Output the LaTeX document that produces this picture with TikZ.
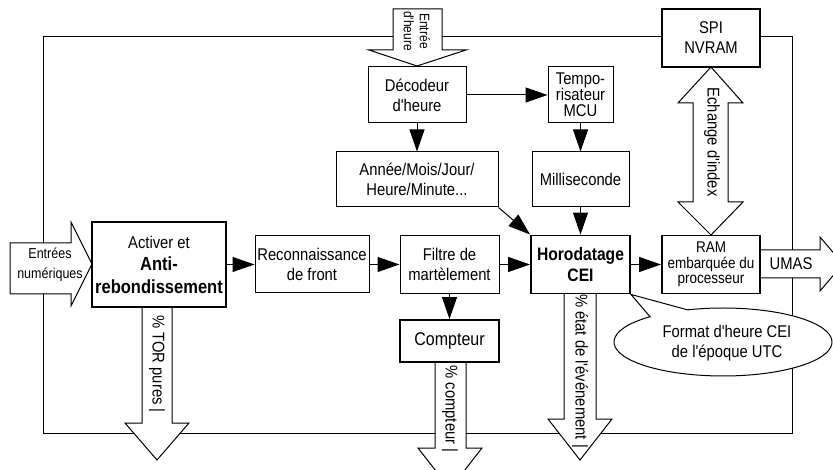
\documentclass[tikz,border=0pt]{standalone}
\usepackage{fontspec}
\setmainfont{Liberation Sans}[Ligatures=TeXOff, FakeStretch=0.87]
\usetikzlibrary{arrows.meta,calc}

\tikzset{
  txt/.style={font=\fontsize{17}{20}\selectfont, align=center, inner sep=0pt},
  box/.style={txt, draw, fill=white, line width=1pt},
  thickbox/.style={box, line width=1.9pt},
  conn/.style={line width=1pt, -{Triangle[length=22pt,width=15pt]}},
  hollow/.style={draw, fill=white, line width=1pt, line join=miter},
  vlabel/.style={txt, rotate=-90},
}

\begin{document}
\begin{tikzpicture}[x=1pt,y=-1pt]
\useasboundingbox (0,0) rectangle (833,470);
\clip (0,0) rectangle (833,470);

% outer loop
\draw[line width=1pt] (43,37) rectangle (792,433);

% time input arrow
\draw[hollow] (393,9) -- (442,9) -- (442,50) -- (466,50) -- (417,66)
  -- (369,50) -- (393,50) -- cycle;
\node[vlabel, font=\fontsize{13.8}{16}\selectfont] (tin) at (417,31) {Entrée\\d'heure};

% digital inputs arrow
\draw[hollow] (10,243) -- (71,243) -- (71,222) -- (92,264) -- (71,306)
  -- (71,294) -- (10,294) -- cycle;
\node[txt, font=\fontsize{14.4}{20}\selectfont] (din) at (50,265) {Entrées\\numériques};

% index exchange double arrow
\draw[hollow] (711,67) -- (743,103) -- (728,103) -- (728,202) -- (743,202)
  -- (711,235) -- (678,202) -- (693,202) -- (693,103) -- (678,103) -- cycle;
\node[vlabel] (idx) at (712,142) {Echange d'index};

% UMAS output arrow
\draw[hollow] (760,250) -- (820,250) -- (820,237) -- (843,264) -- (820,291)
  -- (820,278) -- (760,278) -- cycle;
\node[txt] (umas) at (791,264) {UMAS};

% output arrows
\draw[hollow] (142,307) -- (172,307) -- (172,423) -- (189,423) -- (157,460)
  -- (125,423) -- (142,423) -- cycle;
\node[vlabel] (tor) at (157,364) {\% TOR pures |};

\draw[hollow] (435,362) -- (466,362) -- (466,448) -- (482,448) -- (450,489)
  -- (418,448) -- (435,448) -- cycle;
\node[vlabel] (cptout) at (450,409) {\% compteur |};

\draw[hollow] (564,293) -- (596,293) -- (596,419) -- (612,419) -- (580,460)
  -- (548,419) -- (564,419) -- cycle;
\node[vlabel] (evt) at (580,371) {\% état de l'événement |};

% blocks
\node[box, minimum width=98pt, minimum height=56pt] (dec) at (417,95) {Décodeur\\d'heure};
\node[box, minimum width=65pt, minimum height=56pt, font=\fontsize{17}{16}\selectfont] (tmp) at (580.5,95) {Tempo-\\risateur\\MCU};
\node[box, minimum width=162pt, minimum height=55pt] (annee) at (417,179.5) {Année/Mois/Jour/\\Heure/Minute...};
\node[box, minimum width=97pt, minimum height=55pt] (milli) at (580.5,179.5) {Milliseconde};
\node[thickbox, minimum width=98pt, minimum height=58pt] (spi) at (711,38) {SPI\\NVRAM};
\node[thickbox, minimum width=134pt, minimum height=85pt, font=\fontsize{17}{22.5}\selectfont] (act) at (159,264.5)
  {Activer et\\{\fontsize{19}{22.5}\selectfont\bfseries Anti-}\\{\fontsize{19}{22.5}\selectfont\bfseries rebondissement}};
\node[box, minimum width=114pt, minimum height=57pt] (reco) at (312,264.5) {Reconnaissance\\de front};
\node[box, minimum width=99pt, minimum height=58pt] (filtre) at (449.5,264.5) {Filtre de\\martèlement};
\node[thickbox, minimum width=99pt, minimum height=58pt, font=\fontsize{18}{21.5}\selectfont\bfseries] (horo) at (580.5,264.5) {Horodatage\\CEI};
\node[thickbox, minimum width=98pt, minimum height=58pt, font=\fontsize{15.5}{15.5}\selectfont] (ram) at (711,264.5) {RAM\\embarquée du\\processeur};
\node[thickbox, minimum width=99pt, minimum height=42pt, font=\fontsize{18.4}{20}\selectfont] (cpt) at (449.5,341) {Compteur};

% connectors
\draw[conn] (dec) -- (tmp);
\draw[conn] (dec) -- (annee);
\draw[conn] (tmp) -- (milli);
\draw[conn] (milli) -- (horo);
\draw[conn] (annee.south east) -- (horo.north west);
\draw[conn] (act) -- (reco);
\draw[conn] (reco) -- (filtre);
\draw[conn] (filtre) -- (horo);
\draw[conn] (horo) -- (ram);
\draw[conn] (filtre) -- (cpt);

% callout
\coordinate (ec) at (723,342);
\draw[fill=white, line width=1pt]
  ([shift={(-109:109 and 34)}]ec) -- (horo.south east) -- ([shift={(228:109 and 34)}]ec)
  arc[start angle=228, end angle=-109, x radius=109, y radius=34];
\node[txt] (fmt) at (727,343) {Format d'heure CEI\\de l'époque UTC};
\end{tikzpicture}
\end{document}
